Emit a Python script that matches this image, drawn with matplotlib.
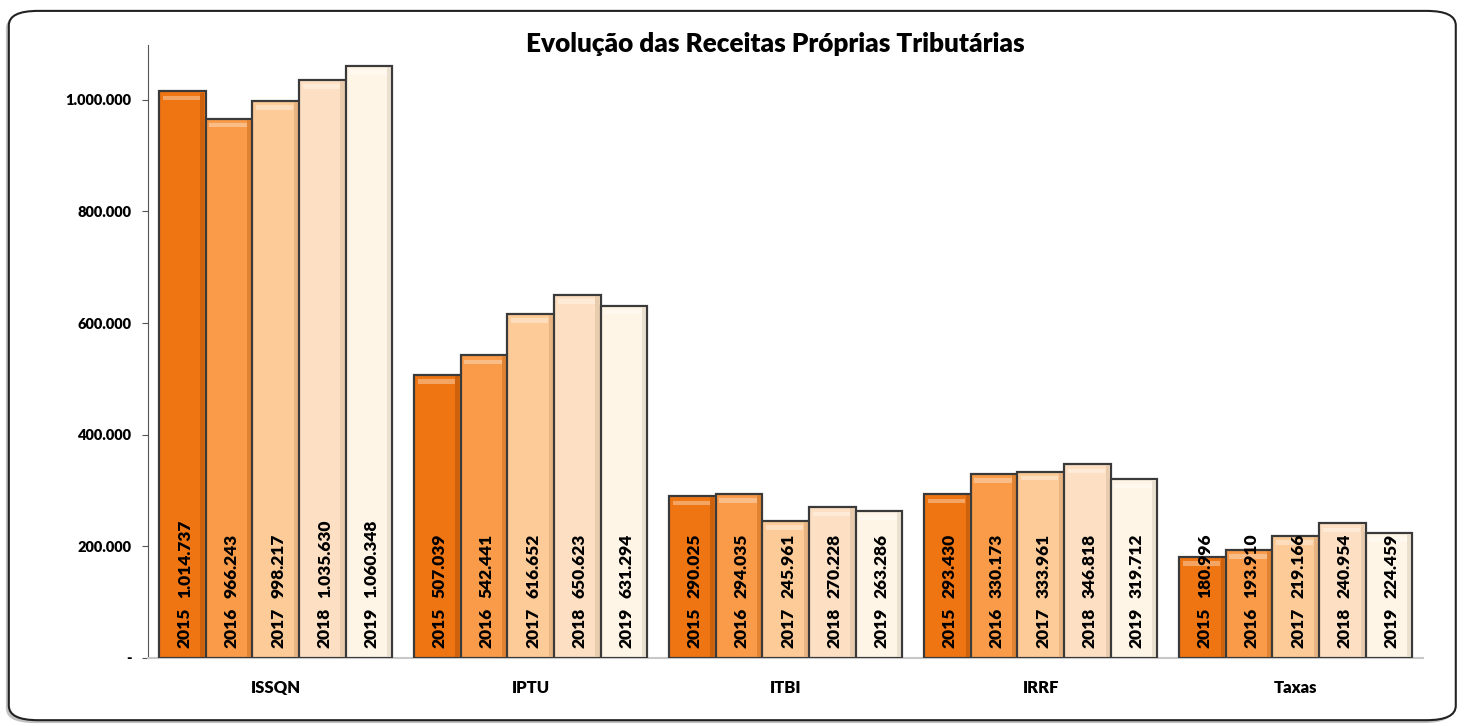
import numpy as np
import matplotlib.pyplot as plt
from matplotlib.patches import FancyBboxPatch

categories = ['ISSQN', 'IPTU', 'ITBI', 'IRRF', 'Taxas']
years = ['2015', '2016', '2017', '2018', '2019']
v2015 = [1014737, 507039, 290025, 293430, 180996]
v2016 = [966243, 542441, 294035, 330173, 193910]
v2017 = [998217, 616652, 245961, 333961, 219166]
v2018 = [1035630, 650623, 270228, 346818, 240954]
v2019 = [1060348, 631294, 263286, 319712, 224459]
series = [v2015, v2016, v2017, v2018, v2019]
colors = ['#ef7512', '#f99b48', '#fdcb98', '#fde0c3', '#fff5e7']
shade = ['#b85508', '#d07426', '#dca676', '#dcbfa0', '#dcd2c2']

plt.rcParams['font.family'] = ['Lato', 'DejaVu Sans']

fig = plt.figure(figsize=(14.69, 7.26), dpi=100)

# rounded frame with shadow
fig.patches.append(FancyBboxPatch((0.004, 0.004), 0.985, 0.977, boxstyle='round,pad=0,rounding_size=0.02',
                                  transform=fig.transFigure, fc='#9a9a9a', ec='none', alpha=0.6, zorder=-10))
fig.patches.append(FancyBboxPatch((0.006, 0.008), 0.985, 0.977, boxstyle='round,pad=0,rounding_size=0.02',
                                  transform=fig.transFigure, fc='white', ec='#222222', lw=1.5, zorder=-9))

ax = fig.add_axes([0.1008, 0.0937, 0.868, 0.8443])
ax.patch.set_alpha(0)

x = np.arange(len(categories))
w = 0.183
for i, vals in enumerate(series):
    pos = x + (i - 2) * w
    ax.bar(pos, vals, w, color=colors[i], edgecolor='#3a3a3a', linewidth=1.6, zorder=3)
    # bevel: highlight near top, shade on right side
    ax.bar(pos - w * 0.02, [8000] * len(vals), w * 0.8, bottom=np.array(vals) - 16000,
           color='white', alpha=0.35, linewidth=0, zorder=4)
    ax.bar(pos + w * 0.43, np.array(vals) - 4000, w * 0.08, bottom=2000,
           color=shade[i], alpha=0.6, linewidth=0, zorder=4)
    for p, v in zip(pos, vals):
        ax.text(p + 0.01, 17000, years[i], rotation=90, ha='center', va='bottom',
                fontsize=12.5, fontweight='heavy', color='black', zorder=5)
        ax.text(p + 0.01, 108000, f'{v:,}'.replace(',', '.'), rotation=90, ha='center', va='bottom',
                fontsize=12.5, fontweight='heavy', color='black', zorder=5)

ax.set_xlim(-0.5, 4.5)
ax.set_ylim(0, 1098000)
ax.set_yticks(np.arange(0, 1000001, 200000))
ax.set_yticklabels(['-'] + [f'{t:,}'.replace(',', '.') for t in range(200000, 1000001, 200000)],
                   fontsize=10.5, fontweight='heavy')
ax.set_xticks(x)
ax.set_xticklabels(categories, fontsize=12, fontweight='heavy')
ax.tick_params(axis='x', length=0, pad=16)
ax.tick_params(axis='y', length=4, color='#555555', pad=8)
for s in ['top', 'right']:
    ax.spines[s].set_visible(False)
ax.spines['left'].set_color('#555555')
ax.spines['bottom'].set_color('#c8c8c8')
ax.spines['bottom'].set_linewidth(1.5)

fig.text(0.528, 0.94, 'Evolução das Receitas Próprias Tributárias', ha='center', va='center',
         fontsize=18.8, fontweight='heavy')

fig.savefig('out.png', dpi=100)
